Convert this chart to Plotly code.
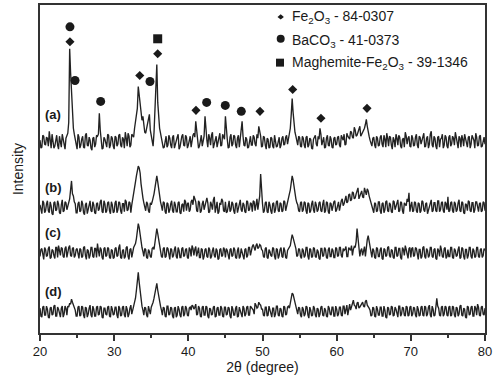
import numpy as np
import plotly.graph_objects as go

# 2-theta sampling grid (degrees), 0.125 deg steps
two_theta = np.round(np.arange(20, 80.001, 0.125), 3)

# Intensities (arbitrary units, relative to each pattern's baseline).
# *_main: values at 20.00, 20.25, ... 80.00 ; *_mid: values at 20.125, 20.375, ... 79.875
pattern_a_main = [
    2, -5, 6, -3, 4, 11, -6, 3, -4, 7, -7, 2, 8, -5, 4, 9, 94, 49, 14, 3,
    -7, 5, -3, 6, -6, 9, -4, 2, -8, 5, -2, 6, 29, 4, -6, 3, -5, 7, -3, 4,
    -7, 5, -2, 8, -5, 3, 10, -4, 6, -3, 7, 14, 26, 56, 38, 22, 15, 9, 18, 28,
    6, -4, 28, 78, 24, 9, 2, -5, 6, -3, 4, -6, 7, -2, 5, -7, 3, 8, -4, 5,
    -3, 6, 2, 9, 21, 4, -4, 7, 3, 26, 2, 8, -3, 10, -2, 6, 1, 9, -3, 5,
    26, 3, -5, 8, -2, 6, -6, 7, 4, 21, -3, 5, -6, 4, -3, 7, -2, 8, 16, 6,
    -4, 5, -7, 3, -5, 4, -6, 2, -4, 5, -3, 6, -2, 7, 4, 14, 44, 16, 6, -3,
    5, -5, 4, -6, 6, -3, 3, -7, 5, -2, 6, 14, -3, 5, -5, 7, -4, 3, -6, 5,
    -2, 6, -5, 4, 8, -2, 6, 3, 10, 4, 12, 7, 13, 6, 11, 14, 23, 9, 2, -4,
    5, -6, 4, -3, 7, -5, 3, 9, -4, 5, -7, 2, 8, -3, 5, -6, 4, 10, -2, 6,
    -5, 4, -3, 8, -6, 5, 2, 9, -4, 6, -2, 11, -5, 4, -7, 6, 3, 8, -3, 5,
    -6, 7, -2, 4, 10, -4, 6, -5, 3, 8, -3, 5, -6, 7, 2, 9, -4, 6, -5, 3,
    -2,
]
pattern_a_mid = [
    -6, 7, -2, 5, -4, 3, 8, -6, 4, -3, 6, -5, 2, -7, 6, 20, 70, 30, 8, -5,
    8, -6, 3, -5, 7, -3, 5, -6, 4, -5, 7, 8, 12, -7, 5, -3, 8, -6, 6, -4,
    6, -4, 7, -3, 5, -6, 4, 9, -5, 8, 5, 20, 34, 48, 30, 26, 10, 14, 24, 12,
    2, 10, 50, 40, 14, 4, -6, 4, -5, 7, -3, 5, -6, 4, 8, -5, 6, -3, 7, -6,
    4, -5, 7, 5, 10, -6, 5, -4, 6, 10, -5, 4, 7, -6, 3, -5, 6, -4, 8, 3,
    11, -6, 5, -4, 7, -3, 4, -5, 8, 6, -4, 3, -5, 6, -3, 5, -4, 4, 10, -5,
    6, -3, 4, -6, 5, -4, 7, -5, 3, -6, 4, -3, 5, -2, 6, 28, 30, 10, 2, 6,
    -4, 6, -3, 5, -5, 4, -6, 3, 7, -4, 3, 8, 2, -6, 4, -3, 6, -5, 4, -3,
    5, -3, 7, 2, -3, 9, 4, 11, 5, 15, 6, 10, 16, 8, 12, 18, 16, 6, -3, 4,
    -3, 6, -4, 5, -2, 7, -5, 4, 6, -3, 5, -5, 4, 7, -4, 3, -5, 6, 4, -4,
    7, -4, 5, -3, 6, -2, 5, -5, 4, -6, 8, -3, 6, -4, 5, -5, 4, -6, 7, -4,
    5, -4, 6, -3, 5, -6, 4, 7, -4, 3, -5, 6, -2, 4, -6, 5, -3, 7, -4, 5,
]
pattern_b_main = [
    3, -6, 5, -3, 7, -5, 2, -7, 6, -2, 4, -6, 8, -3, 5, 2, 9, 27, 12, 4,
    -5, 6, -3, 4, -7, 5, -2, 7, -4, 3, -6, 5, -1, 8, -5, 4, -3, 6, -6, 3,
    -4, 7, -2, 5, -6, 4, 8, -3, 6, -5, 8, 18, 32, 42, 35, 15, 5, -3, 4, -5,
    3, 9, 20, 32, 18, 6, -3, 5, -6, 4, -2, 7, -5, 3, -4, 6, -6, 4, 8, -3,
    5, -2, 8, 12, 6, -4, 5, -3, 7, 2, 10, -5, 6, -2, 11, 3, -6, 5, 9, -3,
    6, -4, 7, -2, 4, -6, 5, -1, 8, -4, 3, -5, 6, -2, 4, 7, -3, 9, 6, 34,
    4, -3, 6, -5, 3, -6, 5, -2, 7, -4, 4, -3, 6, 2, 10, 18, 32, 20, 9, 3,
    -4, 6, -2, 5, -6, 4, -3, 7, -5, 3, -2, 6, -4, 8, -3, 5, -6, 4, 2, 7,
    -2, 6, 3, 9, 4, 12, 6, 14, 8, 15, 10, 18, 9, 16, 11, 20, 13, 17, 8, 2,
    -5, 4, -3, 6, -6, 5, -2, 7, -4, 3, -5, 6, 2, 8, -3, 5, -6, 4, 9, 15,
    2, -4, 6, -3, 5, -5, 7, -2, 4, -6, 3, 8, -3, 5, -4, 7, -2, 6, -5, 4,
    11, -3, 6, -5, 4, -2, 8, -4, 5, -6, 3, 7, -3, 5, -5, 6, -2, 4, -4, 6,
    -3,
]
pattern_b_mid = [
    -4, 7, -5, 4, -3, 6, -6, 5, -3, 7, -5, 3, -4, 6, -2, 5, 18, 14, 6, -5,
    4, -4, 7, -5, 3, -6, 5, -3, 6, -5, 4, -3, 6, -4, 7, -5, 5, -3, 6, -5,
    5, -5, 6, -3, 4, -4, 6, -2, 5, 3, 12, 26, 38, 40, 24, 10, 2, 6, -3, 5,
    6, 14, 28, 26, 12, 2, 6, -4, 5, -5, 4, -3, 6, -4, 5, -5, 3, -4, 6, 4,
    -4, 6, 3, 9, -3, 7, -5, 4, -2, 6, 5, -4, 3, 8, -5, 6, -4, 3, 7, -4,
    -5, 5, -4, 6, -3, 4, -5, 6, -2, 5, -4, 7, -3, 5, -4, 6, 3, -2, 12, 14,
    -5, 5, -4, 6, -3, 4, -5, 6, -3, 5, -4, 7, -3, 5, 14, 24, 28, 14, 5, -3,
    5, -4, 6, -3, 5, -5, 4, -2, 6, -4, 5, -3, 4, -5, 6, -4, 5, -3, 6, -4,
    4, -3, 7, 2, 10, 5, 13, 7, 16, 9, 14, 20, 12, 17, 10, 15, 19, 12, 5, -3,
    5, -4, 6, -3, 4, -5, 6, -3, 5, -4, 7, -2, 5, -4, 6, -3, 5, 2, 6, -4,
    6, -3, 5, -5, 4, -3, 6, -4, 5, -2, 6, -4, 5, -3, 7, -4, 5, -3, 6, -2,
    -4, 5, -3, 6, -4, 5, -3, 6, -5, 4, -3, 6, -4, 5, -2, 6, -4, 5, -3, 5,
]
pattern_c_main = [
    -3, 5, -6, 4, -2, 7, -4, 3, -5, 6, 8, -2, 5, -4, 7, 3, 8, -3, 6, -2,
    5, -5, 4, -3, 7, -6, 3, -2, 6, -4, 5, 10, -3, 4, -6, 6, -2, 5, -5, 3,
    -4, 6, -2, 9, -5, 4, -3, 7, -6, 5, 2, 8, 15, 30, 18, 6, -3, 4, -5, 2,
    -4, 6, 12, 25, 14, 5, -4, 6, -3, 5, -6, 4, -2, 7, -5, 3, -4, 6, -2, 5,
    -5, 4, 8, -2, 7, 3, -4, 5, -6, 4, -3, 6, -5, 3, -2, 5, -6, 4, -3, 6,
    -4, 3, -6, 5, -2, 4, -5, 6, -3, 2, -6, 5, -2, 6, 4, 9, 3, 10, 6, 8,
    3, -4, 6, -5, 2, -3, 5, -6, 4, -2, 6, -4, 3, -5, 5, 8, 19, 12, 5, -2,
    4, -5, 3, -2, 6, -6, 4, -3, 5, -4, 2, -6, 5, -2, 4, -5, 6, -3, 3, -4,
    5, -2, 6, -4, 3, 7, -3, 5, 8, 4, 6, 25, 6, 3, -2, 7, 10, 18, 9, -4,
    3, -5, 5, -3, 6, -6, 4, -2, 7, -4, 3, -5, 6, -2, 5, -6, 4, 8, -3, 5,
    -4, 6, -2, 5, -6, 4, -3, 7, -5, 3, -2, 6, -4, 5, -6, 3, 8, -3, 5, -5,
    4, -3, 6, -5, 3, -2, 7, -4, 5, -6, 4, -2, 6, -5, 3, -3, 6, -4, 5, -2,
    3,
]
pattern_c_mid = [
    4, -4, 6, -3, 5, -5, 4, -2, 6, -4, 3, 6, -3, 5, -4, 6, -2, 5, -4, 4,
    -3, 5, -4, 6, -2, 4, -5, 6, -3, 5, -4, 3, 6, -4, 5, -3, 6, -4, 4, -5,
    5, -3, 6, -4, 3, -5, 6, -3, 4, -4, 6, 10, 24, 26, 12, 2, 5, -4, 4, -3,
    5, 4, 20, 20, 8, -3, 5, -4, 6, -3, 5, -4, 4, -3, 6, -4, 5, -3, 4, -4,
    6, -3, 5, 4, -3, 6, -4, 4, -3, 5, -4, 4, -3, 6, -4, 3, -5, 5, -2, 4,
    5, -4, 4, -3, 6, -4, 3, -5, 5, -3, 4, -4, 6, -2, 7, 4, 8, 5, 9, 4,
    -3, 5, -4, 4, -2, 6, -3, 5, -5, 4, -3, 6, -4, 3, 6, 14, 16, 8, -3, 5,
    -3, 5, -4, 6, -3, 5, -4, 6, -3, 4, -5, 5, -3, 6, -4, 4, -3, 5, -4, 6,
    -3, 6, -2, 5, 4, -3, 6, 3, -2, 7, 12, 14, -3, 5, 4, -3, 14, 12, 4, 5,
    -4, 6, -3, 4, -5, 5, -3, 6, -2, 4, -4, 6, -3, 5, -4, 6, -2, 4, -5, 6,
    5, -3, 6, -4, 4, -5, 6, -3, 5, -4, 6, -3, 4, -5, 5, -3, 4, -4, 6, -3,
    -3, 6, -4, 5, -3, 4, -5, 6, -3, 4, -5, 6, -3, 5, -4, 6, -3, 4, -4, 5,
]
pattern_d_main = [
    4, -5, 6, -3, 3, -6, 5, -2, 7, -4, 3, -5, 6, -2, 4, 6, 9, 13, 7, 2,
    -4, 6, -3, 5, -6, 4, -2, 7, -5, 3, -4, 6, -2, 5, -6, 4, -3, 6, -5, 3,
    -2, 5, -6, 4, -3, 6, -5, 3, -2, 7, 4, 10, 22, 40, 20, 6, -3, 4, -5, 3,
    5, 10, 18, 29, 15, 6, -3, 4, -5, 6, -2, 4, -6, 5, -3, 3, -5, 6, -2, 4,
    -4, 5, 7, 3, 8, -2, 4, -5, 6, -3, 5, -6, 3, -2, 6, -4, 5, -3, 4, -5,
    5, -2, 4, -6, 3, -3, 6, -4, 2, -5, 4, -2, 6, -3, 5, 2, 9, 4, 10, 7,
    3, -4, 5, -3, 2, -5, 4, -2, 6, -4, 3, -5, 5, -2, 6, 8, 19, 14, 4, -2,
    4, -5, 3, -2, 5, -6, 2, -3, 4, -5, 3, -2, 6, -4, 2, -5, 4, -3, 5, -4,
    3, -2, 5, -4, 6, 2, -3, 8, 5, 12, 6, 9, 4, 7, 10, 5, 12, 6, 2, -3,
    4, -5, 3, -3, 5, -4, 2, -6, 4, -2, 5, -3, 3, -5, 6, -2, 4, -4, 5, -3,
    6, -2, 4, -5, 3, -3, 6, -4, 5, -2, 7, -5, 3, -3, 14, 4, -4, 6, -2, 5,
    -4, 6, -3, 5, -5, 4, -2, 7, -4, 3, -6, 5, -2, 6, -4, 4, 8, -3, 5, -2,
    4,
]
pattern_d_mid = [
    -4, 5, -3, 6, -5, 4, -3, 6, -4, 5, -2, 4, -5, 6, -3, 5, 8, 10, 3, -4,
    5, -4, 6, -3, 5, -5, 4, -3, 6, -4, 5, -3, 6, -5, 4, -2, 5, -4, 6, -3,
    5, -3, 6, -4, 5, -3, 6, -5, 4, -2, 6, 14, 32, 30, 10, 2, 5, -3, 6, -2,
    7, 14, 24, 22, 10, 2, 5, -4, 6, -3, 5, -4, 4, -5, 6, -3, 5, -4, 6, -3,
    4, 2, 6, 5, -3, 6, -4, 5, -3, 6, -4, 4, -3, 5, -5, 4, -3, 6, -4, 5,
    -3, 5, -4, 6, -3, 4, -5, 5, -3, 6, -4, 5, -3, 6, 4, -2, 7, 5, 8, 3,
    -3, 5, -4, 6, -3, 4, -5, 6, -3, 4, -4, 6, -3, 5, 4, 14, 18, 8, 3, 5,
    -3, 5, -4, 6, -3, 5, -4, 6, -3, 4, -5, 5, -3, 4, -4, 6, -2, 5, -4, 6,
    -4, 5, -3, 6, -2, 7, 4, 2, 9, 7, 3, 10, 5, 8, 6, 11, 7, 4, -4, 5,
    -4, 6, -3, 5, -4, 6, -5, 5, -3, 6, -4, 5, -2, 6, -4, 5, -3, 6, -4, 5,
    -4, 5, -3, 6, -4, 5, -3, 6, -4, 5, -3, 6, -4, 5, 6, -3, 5, -4, 6, -3,
    5, -4, 6, -3, 5, -4, 6, -3, 4, -5, 6, -3, 5, -4, 6, -3, 5, -4, 6, -3,
]
pattern_names = ["(a)", "(b)", "(c)", "(d)"]
pattern_offsets = [192, 126, 80, 21]

# Phase markers (2-theta, height)
fe2o3_x = [24.04, 33.45, 35.87, 41.03, 49.66, 54.07, 57.88, 64.09]
fe2o3_y = [293, 259, 281, 224, 223, 245, 216, 226]
baco3_x = [24.04, 24.72, 28.18, 34.83, 42.47, 44.98, 47.14]
baco3_y = [308, 254, 233, 253, 232, 229, 223]
maghemite_x = [35.87]
maghemite_y = [296]

legend_labels = [
    "Fe<sub>2</sub>O<sub>3</sub> - 84-0307",
    "BaCO<sub>3</sub> - 41-0373",
    "Maghemite-Fe<sub>2</sub>O<sub>3</sub> - 39-1346",
]

FONT = "Liberation Sans, Arial, sans-serif"
INK = "#1a1a1a"
AXIS = "#333333"


def merge(main, mid):
    y = np.empty(len(main) + len(mid))
    y[0::2] = main
    y[1::2] = mid
    return y


patterns = [
    merge(pattern_a_main, pattern_a_mid),
    merge(pattern_b_main, pattern_b_mid),
    merge(pattern_c_main, pattern_c_mid),
    merge(pattern_d_main, pattern_d_mid),
]

fig = go.Figure()
for pat, off in zip(patterns, pattern_offsets):
    fig.add_trace(go.Scatter(
        x=two_theta, y=pat + off, mode="lines",
        line=dict(color="#222222", width=1.35), showlegend=False, hoverinfo="skip"))

fig.add_trace(go.Scatter(x=fe2o3_x, y=fe2o3_y, mode="markers",
                         marker=dict(symbol="diamond", size=7, color=INK), showlegend=False))
fig.add_trace(go.Scatter(x=baco3_x, y=baco3_y, mode="markers",
                         marker=dict(symbol="circle", size=9, color=INK), showlegend=False))
fig.add_trace(go.Scatter(x=maghemite_x, y=maghemite_y, mode="markers",
                         marker=dict(symbol="square", size=9, color=INK), showlegend=False))

# plot-area geometry helpers (pixels -> data units)
PX0, PX1, PY0, PY1 = 40, 485, 3, 333
def dx(px):
    return 20 + (px - PX0) * 60 / (PX1 - PX0)
def dy(py):
    return (PY1 - py) * 330 / (PY1 - PY0)

# legend symbols
cx, r = 280.7, 4
shapes = [
    dict(type="path", xref="x", yref="y",
         path=f"M {dx(cx-3.2)} {dy(15)} L {dx(cx)} {dy(12.3)} L {dx(cx+3.2)} {dy(15)} L {dx(cx)} {dy(17.7)} Z",
         fillcolor=INK, line=dict(width=0)),
    dict(type="circle", xref="x", yref="y", x0=dx(cx - r), x1=dx(cx + r), y0=dy(37 + r), y1=dy(37 - r),
         fillcolor=INK, line=dict(width=0)),
    dict(type="rect", xref="x", yref="y", x0=dx(280 - 4), x1=dx(280 + 4), y0=dy(61 + 4), y1=dy(61 - 4),
         fillcolor=INK, line=dict(width=0)),
]

annotations = []
for lab, py in zip(legend_labels, [15, 39, 61]):
    annotations.append(dict(x=dx(290), y=dy(py), xref="x", yref="y", text=lab, showarrow=False,
                            xanchor="left", yanchor="middle", font=dict(family=FONT, size=14, color=INK)))
for name, py in zip(pattern_names, [113, 187, 232, 291]):
    annotations.append(dict(x=dx(43), y=dy(py), xref="x", yref="y", text=f"<b>{name}</b>", showarrow=False,
                            xanchor="left", yanchor="middle", font=dict(family=FONT, size=13, color=INK)))

fig.update_layout(
    width=497, height=376,
    margin=dict(l=PX0, r=497 - PX1, t=PY0, b=376 - PY1),
    paper_bgcolor="white", plot_bgcolor="white",
    font=dict(family=FONT, color=INK),
    shapes=shapes, annotations=annotations,
    showlegend=False,
    xaxis=dict(range=[20, 80], tick0=20, dtick=10, ticks="outside", ticklen=6, tickwidth=1.5,
               tickcolor=AXIS, showline=True, linecolor=AXIS, linewidth=1.5, mirror=True,
               showgrid=False, zeroline=False, tickfont=dict(size=13, family=FONT, color=INK),
               minor=dict(dtick=5, tick0=20, ticks="outside", ticklen=3, tickwidth=1.5, tickcolor=AXIS),
               title=dict(text="2θ (degree)", font=dict(size=14, family=FONT, color=INK), standoff=3)),
    yaxis=dict(range=[0, 330], showticklabels=False, ticks="", showline=True, linecolor=AXIS,
               linewidth=1.5, mirror=True, showgrid=False, zeroline=False,
               title=dict(text="Intensity", font=dict(size=14, family=FONT, color=INK), standoff=11)),
)

fig.write_html("out.html")
